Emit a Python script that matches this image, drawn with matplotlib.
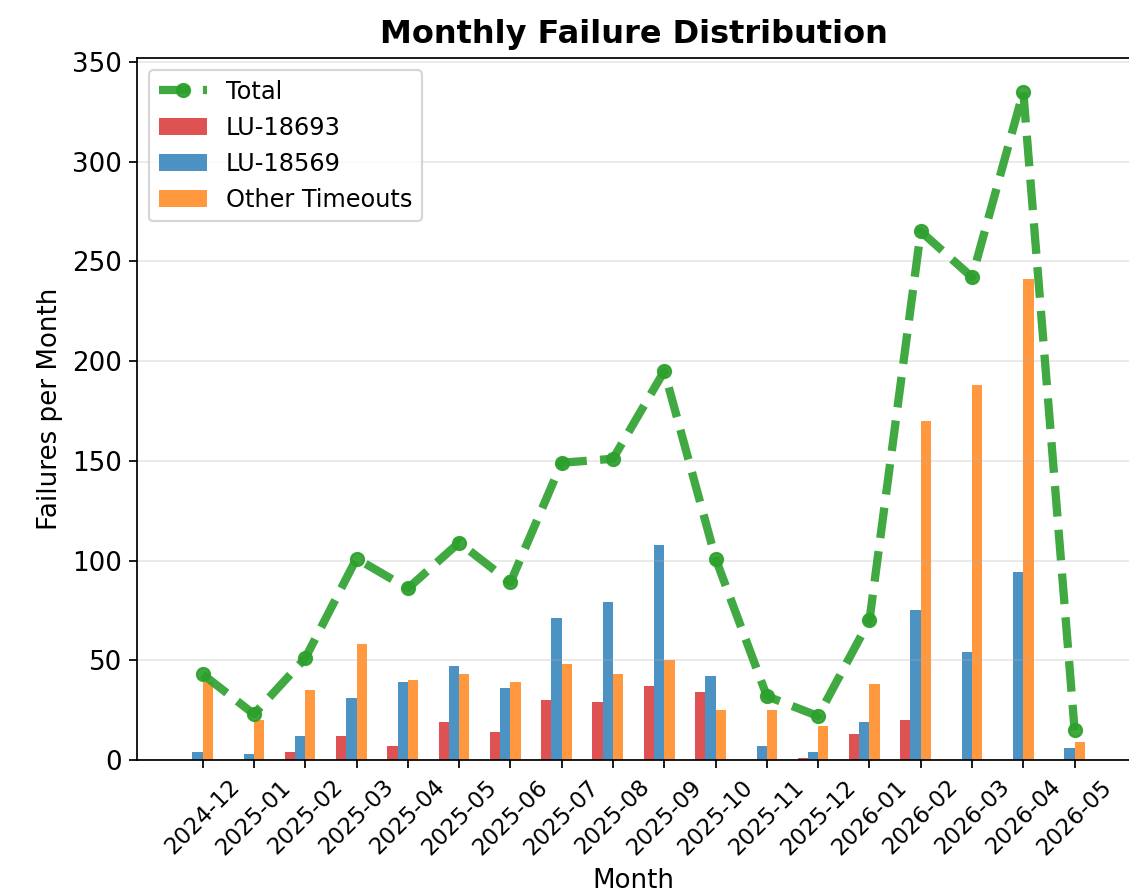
import numpy as np
import matplotlib
matplotlib.use("Agg")
import matplotlib.pyplot as plt

months = ['2024-12', '2025-01', '2025-02', '2025-03', '2025-04', '2025-05',
          '2025-06', '2025-07', '2025-08', '2025-09', '2025-10', '2025-11',
          '2025-12', '2026-01', '2026-02', '2026-03', '2026-04', '2026-05']
lu_18693 = [0, 0, 4, 12, 7, 19, 14, 30, 29, 37, 34, 0, 1, 13, 20, 0, 0, 0]
lu_18569 = [4, 3, 12, 31, 39, 47, 36, 71, 79, 108, 42, 7, 4, 19, 75, 54, 94, 6]
other_timeouts = [39, 20, 35, 58, 40, 43, 39, 48, 43, 50, 25, 25, 17, 38, 170, 188, 241, 9]
total = [43, 23, 51, 101, 86, 109, 89, 149, 151, 195, 101, 32, 22, 70, 265, 242, 335, 15]

DPI = 157
fig = plt.figure(figsize=(1129 / DPI, 894 / DPI), dpi=DPI)
ax = fig.add_axes([137 / 1129, 1 - 760 / 894, (1130 - 137) / 1129, (760 - 58.3) / 894])

x = np.arange(len(months))
w = 0.2
b1 = ax.bar(x - 0.3, lu_18693, w, color='#d62728', alpha=0.8, label='LU-18693')
b2 = ax.bar(x - 0.1, lu_18569, w, color='#1f77b4', alpha=0.8, label='LU-18569')
b3 = ax.bar(x + 0.1, other_timeouts, w, color='#ff7f0e', alpha=0.8, label='Other Timeouts')
ln, = ax.plot(x, total, color='#2ca02c', linestyle='--', marker='o', linewidth=3.8,
              markersize=6, alpha=0.9, label='Total')

ax.set_xticks(x)
ax.set_xticklabels(months, rotation=45, fontsize=10.5)
ax.tick_params(axis='y', labelsize=12)
ax.set_xlabel('Month', fontsize=12)
ax.set_ylabel('Failures per Month', fontsize=12)
ax.set_title('Monthly Failure Distribution', fontsize=14.7, fontweight='bold', pad=7)
ax.grid(axis='y', alpha=0.3)
ax.legend(handles=[ln, b1, b2, b3], loc='upper left', fontsize=11)

fig.savefig('out.png', dpi=DPI)
